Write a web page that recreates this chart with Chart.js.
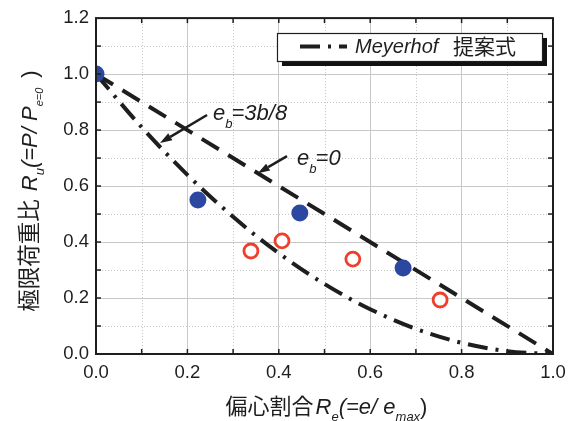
<!DOCTYPE html>
<html>
<head>
<meta charset="utf-8">
<script src="https://cdn.jsdelivr.net/npm/chart.js@4.4.1/dist/chart.umd.min.js"></script>
<style>
  html, body { margin: 0; padding: 0; background: #fff; }
  canvas { display: block; }
</style>
</head>
<body>
<canvas id="chart" width="575" height="421"></canvas>
<script>
// 軸の目盛ラベル
const xTickLabels = ['0.0', '0.2', '0.4', '0.6', '0.8', '1.0'];
const yTickLabels = ['0.0', '0.2', '0.4', '0.6', '0.8', '1.0', '1.2'];

// 実験値（塗りつぶし ● ）
const solidRe = [0.0, 0.223, 0.446, 0.672];
const solidRu = [1.0, 0.55, 0.504, 0.307];

// 実験値（白抜き ○ ）
const openRe = [0.339, 0.407, 0.562, 0.753];
const openRu = [0.368, 0.404, 0.339, 0.193];

// Meyerhof 提案式  e_b = 0
const meyer0Re = [0.0, 1.0];
const meyer0Ru = [1.0, 0.0];

// Meyerhof 提案式  e_b = 3b/8
const meyer38Re = [0.0, 0.1, 0.2, 0.3, 0.4, 0.5, 0.6, 0.7, 0.8, 0.9, 1.0];
const meyer38Ru = [1.0, 0.81, 0.64, 0.49, 0.36, 0.25, 0.16, 0.09, 0.04, 0.01, 0.0];

const LATIN = '"Liberation Sans", Arial, Helvetica, sans-serif';
const CJK = '"Noto Sans CJK JP", sans-serif';
const INK = '#1e1e1e';

const pts = (xs, ys) => xs.map((x, i) => ({ x, y: ys[i] }));

// 注記（矢印と式ラベル）の位置はデータ座標で指定
const notes = [
  { tail: [0.243, 0.854], tip: [0.140, 0.754], at: [0.256, 0.836], rest: '=3b/8' },
  { tail: [0.418, 0.707], tip: [0.354, 0.646], at: [0.440, 0.675], rest: '=0' }
];

function runsWidth(ctx, runs) {
  let w = 0;
  for (const r of runs) { ctx.font = r.font; w += ctx.measureText(r.t).width + (r.gap || 0); }
  return w;
}
function drawRuns(ctx, runs, x, y) {
  let cx = x;
  for (const r of runs) {
    ctx.font = r.font;
    ctx.fillText(r.t, cx, y + (r.dy || 0));
    cx += ctx.measureText(r.t).width + (r.gap || 0);
  }
}

const decorations = {
  id: 'decorations',
  beforeDatasetsDraw(chart) {
    // 補助目盛の点線グリッド
    const { ctx, chartArea: a, scales: { x, y } } = chart;
    ctx.save();
    ctx.strokeStyle = '#c4c4c4';
    ctx.lineWidth = 1;
    ctx.setLineDash([1, 2]);
    for (let k = 1; k < 10; k += 2) {
      const px = Math.round(x.getPixelForValue(k / 10)) + 0.5;
      ctx.beginPath(); ctx.moveTo(px, a.top); ctx.lineTo(px, a.bottom); ctx.stroke();
    }
    for (let k = 1; k < 12; k += 2) {
      const py = Math.round(y.getPixelForValue(k / 10)) + 0.5;
      ctx.beginPath(); ctx.moveTo(a.left, py); ctx.lineTo(a.right, py); ctx.stroke();
    }
    ctx.restore();
  },
  afterDatasetsDraw(chart) {
    const { ctx, chartArea: a, scales: { x, y } } = chart;
    ctx.save();
    // 枠と内向き目盛
    ctx.strokeStyle = INK;
    ctx.lineWidth = 1.5;
    for (let k = 1; k < 10; k++) {
      const px = x.getPixelForValue(k / 10);
      ctx.beginPath(); ctx.moveTo(px, a.bottom); ctx.lineTo(px, a.bottom - 5); ctx.stroke();
      ctx.beginPath(); ctx.moveTo(px, a.top); ctx.lineTo(px, a.top + 5); ctx.stroke();
    }
    for (let k = 1; k < 12; k++) {
      const py = y.getPixelForValue(k / 10);
      ctx.beginPath(); ctx.moveTo(a.left, py); ctx.lineTo(a.left + 5, py); ctx.stroke();
      ctx.beginPath(); ctx.moveTo(a.right, py); ctx.lineTo(a.right - 5, py); ctx.stroke();
    }
    ctx.lineWidth = 2;
    ctx.strokeRect(a.left, a.top, a.right - a.left, a.bottom - a.top);

    // 矢印
    ctx.fillStyle = INK;
    ctx.strokeStyle = INK;
    for (const n of notes) {
      const tx = x.getPixelForValue(n.tail[0]), ty = y.getPixelForValue(n.tail[1]);
      const hx = x.getPixelForValue(n.tip[0]), hy = y.getPixelForValue(n.tip[1]);
      const ang = Math.atan2(hy - ty, hx - tx);
      const L = 12, W = 4;
      const bx = hx - L * Math.cos(ang), by = hy - L * Math.sin(ang);
      ctx.lineWidth = 2.5;
      ctx.beginPath(); ctx.moveTo(tx, ty); ctx.lineTo(bx, by); ctx.stroke();
      ctx.beginPath();
      ctx.moveTo(hx, hy);
      ctx.lineTo(bx + W * Math.sin(ang), by - W * Math.cos(ang));
      ctx.lineTo(bx - W * Math.sin(ang), by + W * Math.cos(ang));
      ctx.closePath(); ctx.fill();
      // e_b=… ラベル
      const lx = x.getPixelForValue(n.at[0]), ly = y.getPixelForValue(n.at[1]);
      ctx.textBaseline = 'alphabetic';
      ctx.textAlign = 'left';
      drawRuns(ctx, [
        { t: 'e', font: `italic 22px ${LATIN}` },
        { t: 'b', font: `italic 13px ${LATIN}`, dy: 8, gap: -1 },
        { t: n.rest, font: `italic 22px ${LATIN}` }
      ], lx, ly);
    }

    // 凡例
    const L0 = 277, T0 = 33, L1 = 542, T1 = 61;
    ctx.fillStyle = '#111';
    ctx.fillRect(L0 + 5, T0 + 5, L1 - L0, T1 - T0);
    ctx.fillStyle = '#fff';
    ctx.fillRect(L0, T0, L1 - L0, T1 - T0);
    ctx.strokeStyle = INK;
    ctx.lineWidth = 1.2;
    ctx.strokeRect(L0 + 0.5, T0 + 0.5, L1 - L0, T1 - T0);
    const ds = chart.data.datasets[3];
    ctx.lineWidth = ds.borderWidth;
    ctx.setLineDash(ds.borderDash);
    ctx.beginPath(); ctx.moveTo(300, 46.5); ctx.lineTo(347, 46.5); ctx.stroke();
    ctx.setLineDash([]);
    ctx.fillStyle = INK;
    ctx.font = `italic 20px ${LATIN}`;
    ctx.fillText('Meyerhof', 355, 53);
    ctx.font = `21px ${CJK}`;
    ctx.fillText('提案式', 453, 54);
    ctx.restore();
  },
  afterDraw(chart) {
    const { ctx, chartArea: a } = chart;
    ctx.save();
    ctx.fillStyle = INK;
    ctx.textBaseline = 'alphabetic';
    ctx.textAlign = 'left';
    // 横軸タイトル
    const xr = [
      { t: '偏心割合', font: `22px ${CJK}`, gap: 2 },
      { t: 'R', font: `italic 22px ${LATIN}` },
      { t: 'e', font: `italic 13px ${LATIN}`, dy: 7 },
      { t: '(=e/ e', font: `italic 22px ${LATIN}` },
      { t: 'max', font: `italic 13px ${LATIN}`, dy: 7 },
      { t: ')', font: `22px ${LATIN}` }
    ];
    const wx = runsWidth(ctx, xr);
    drawRuns(ctx, xr, (a.left + a.right) / 2 - wx / 2 + 2, 414);
    // 縦軸タイトル
    const yr = [
      { t: '極限荷重比', font: `22.5px ${CJK}`, gap: 8 },
      { t: 'R', font: `italic 22px ${LATIN}` },
      { t: 'u', font: `italic 13px ${LATIN}`, dy: 7 },
      { t: '(=P/ P', font: `italic 22px ${LATIN}` },
      { t: 'e=0', font: `italic 11px ${LATIN}`, dy: 6, gap: 10 },
      { t: ')', font: `22px ${LATIN}` }
    ];
    const wy = runsWidth(ctx, yr);
    ctx.translate(37, 191);
    ctx.rotate(-Math.PI / 2);
    drawRuns(ctx, yr, -wy / 2, 0);
    ctx.restore();
  }
};

new Chart(document.getElementById('chart'), {
  type: 'scatter',
  data: {
    datasets: [
      {
        data: pts(solidRe, solidRu),
        pointRadius: 8.5,
        pointBackgroundColor: '#2c47a0',
        pointBorderColor: '#2c47a0',
        pointBorderWidth: 0,
        showLine: false
      },
      {
        data: pts(openRe, openRu),
        pointRadius: 7,
        pointBackgroundColor: '#fff',
        pointBorderColor: '#ef3f2b',
        pointBorderWidth: 2.8,
        showLine: false
      },
      {
        data: pts(meyer0Re, meyer0Ru),
        showLine: true,
        pointRadius: 0,
        borderColor: INK,
        borderWidth: 4,
        borderDash: [20, 11],
        borderCapStyle: 'butt'
      },
      {
        data: pts(meyer38Re, meyer38Ru),
        showLine: true,
        pointRadius: 0,
        borderColor: INK,
        borderWidth: 4,
        borderDash: [20, 8, 3, 8],
        borderCapStyle: 'butt',
        cubicInterpolationMode: 'monotone'
      }
    ]
  },
  options: {
    responsive: false,
    devicePixelRatio: 1,
    animation: false,
    layout: { padding: { left: 0, top: 18, right: 22, bottom: 0 } },
    plugins: { legend: { display: false }, tooltip: { enabled: false } },
    scales: {
      x: {
        type: 'linear', min: 0, max: 1,
        afterFit(s) { s.height = 67; },
        border: { display: false },
        grid: { color: '#c8c8c8', lineWidth: 1, drawTicks: false },
        ticks: {
          stepSize: 0.2, padding: 8, color: INK,
          font: { family: LATIN, size: 18.5 },
          callback: (v, i) => xTickLabels[i]
        }
      },
      y: {
        type: 'linear', min: 0, max: 1.2,
        afterFit(s) { s.width = 96; },
        border: { display: false },
        grid: { color: '#c8c8c8', lineWidth: 1, drawTicks: false },
        ticks: {
          stepSize: 0.2, padding: 7, color: INK,
          font: { family: LATIN, size: 18.5 },
          callback: (v, i) => yTickLabels[i]
        }
      }
    }
  },
  plugins: [decorations]
});
</script>
</body>
</html>
